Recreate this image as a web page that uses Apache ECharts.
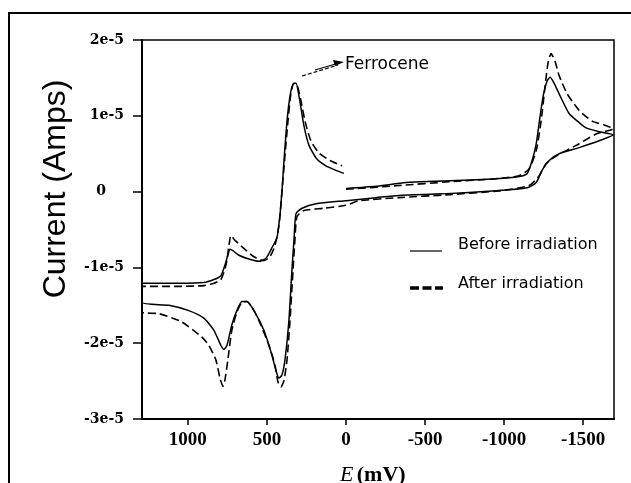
<!DOCTYPE html>
<html>
<head>
<meta charset="utf-8">
<script src="https://cdn.jsdelivr.net/npm/echarts@6/dist/echarts.min.js"></script>
<style>
html,body{margin:0;padding:0;background:#fff;}
#chart{width:631px;height:483px;}
</style>
</head>
<body>
<div id="chart"></div>
<script>
// Potentials (mV) and currents (units of 1e-5 A), in scan order
const beforeE = [0,-190,-380,-608,-949,-1095,-1146,-1177,-1203,-1228,-1247,-1272,-1291,-1316,-1348,-1411,-1475,-1519,-1601,-1690,
  -1601,-1475,-1348,-1285,-1240,-1203,-1146,-949,-608,-335,-190,0,190,278,316,329,342,361,386,405,424,443,468,519,582,627,658,690,722,753,772,791,835,899,994,1120,1290,
  1290,1057,899,835,791,766,747,734,715,677,614,551,506,468,437,418,405,392,373,354,335,316,297,266,234,184,127,63,13];
const beforeI = [0.04,0.07,0.12,0.14,0.17,0.20,0.24,0.41,0.63,1.0,1.26,1.46,1.51,1.43,1.29,1.03,0.91,0.84,0.79,0.75,
  0.67,0.58,0.50,0.41,0.28,0.12,0.05,0.01,-0.03,-0.05,-0.08,-0.12,-0.16,-0.22,-0.29,-0.64,-1.04,-1.70,-2.22,-2.42,-2.46,-2.36,-2.16,-1.83,-1.57,-1.45,-1.45,-1.57,-1.76,-2.03,-2.08,-2.03,-1.83,-1.67,-1.57,-1.50,-1.46,
  -1.21,-1.21,-1.20,-1.16,-1.11,-0.97,-0.84,-0.76,-0.78,-0.84,-0.89,-0.92,-0.88,-0.74,-0.61,-0.32,0.01,0.41,0.93,1.26,1.42,1.43,1.26,0.87,0.61,0.43,0.34,0.28,0.24];
const afterE = [0,-335,-652,-949,-1095,-1158,-1203,-1234,-1259,-1278,-1297,-1322,-1348,-1399,-1475,-1557,-1633,-1690,
  -1582,-1456,-1329,-1266,-1222,-1158,-968,-652,-335,-82,0,139,266,310,323,335,354,373,392,411,430,449,487,538,582,627,658,690,722,747,766,778,797,823,867,911,1038,1184,1290,
  1290,1057,899,835,791,759,740,728,703,646,582,519,481,449,424,405,386,367,348,329,310,285,259,222,171,101,25];
const afterI = [0.03,0.08,0.13,0.17,0.21,0.30,0.54,0.93,1.39,1.70,1.82,1.72,1.53,1.29,1.07,0.93,0.88,0.83,
  0.76,0.61,0.47,0.37,0.21,0.08,0.01,-0.04,-0.08,-0.12,-0.18,-0.22,-0.25,-0.33,-0.64,-1.04,-1.70,-2.22,-2.49,-2.58,-2.51,-2.29,-2.03,-1.76,-1.57,-1.45,-1.46,-1.59,-1.83,-2.22,-2.49,-2.57,-2.46,-2.22,-2.03,-1.92,-1.72,-1.61,-1.59,
  -1.25,-1.25,-1.24,-1.21,-1.16,-0.97,-0.71,-0.58,-0.64,-0.75,-0.86,-0.91,-0.86,-0.71,-0.45,-0.01,0.47,0.93,1.30,1.43,1.41,1.20,0.93,0.67,0.51,0.41,0.34];
const xTicks = [1000, 500, 0, -500, -1000, -1500];
const yTicks = [-3, -2, -1, 0, 1, 2];
const seriesNames = ['Before irradiation', 'After irradiation'];
const annotation = 'Ferrocene';

const zip = (a, b) => a.map((v, i) => [v, b[i]]);

const chart = echarts.init(document.getElementById('chart'), null, {renderer: 'canvas'});
const option = {
  backgroundColor: '#fff',
  animation: false,
  grid: {left: 142, top: 40, right: 17, bottom: 64, show: true, borderColor: '#000', borderWidth: 1.5, backgroundColor: 'transparent'},
  xAxis: {
    type: 'value', inverse: true, min: -1695, max: 1290,
    splitLine: {show: false},
    axisLine: {show: true, onZero: false, lineStyle: {color: '#000', width: 2}},
    axisTick: {show: true, inside: false, length: 6, customValues: xTicks, lineStyle: {color: '#000', width: 1.5}},
    axisLabel: {show: true, customValues: xTicks, margin: 12, color: '#000', fontFamily: 'Liberation Serif', fontWeight: 'bold', fontSize: 19,
      formatter: v => String(v)}
  },
  yAxis: {
    type: 'value', min: yTicks[0], max: yTicks[yTicks.length - 1], interval: 1,
    splitLine: {show: false},
    axisLine: {show: true, onZero: false, lineStyle: {color: '#000', width: 2}},
    axisTick: {show: true, inside: false, length: 9, lineStyle: {color: '#000', width: 1.5}},
    axisLabel: {
      show: true, margin: 18, color: '#000', fontFamily: 'DejaVu Serif', fontWeight: 'bold', fontSize: 14,
      formatter: v => v === 0 ? '{z|0}' : v + 'e-5',
      rich: {z: {padding: [0, 18, 0, 0], fontFamily: 'DejaVu Serif', fontWeight: 'bold', fontSize: 14, color: '#000'}}
    }
  },
  series: [
    {name: seriesNames[0], type: 'line', data: zip(beforeE, beforeI), showSymbol: false, smooth: 0.2,
     lineStyle: {color: '#000', width: 1.5, type: 'solid'}},
    {name: seriesNames[1], type: 'line', data: zip(afterE, afterI), showSymbol: false, smooth: 0.2,
     lineStyle: {color: '#000', width: 1.6, type: [8, 4]}}
  ],
  graphic: [
    {type: 'rect', silent: true, shape: {x: 9, y: 13, width: 800, height: 700}, style: {fill: null, stroke: '#000', lineWidth: 2}},
    {type: 'text', x: 56, y: 189, rotation: Math.PI / 2,
     style: {text: 'Current (Amps)', font: '32px "Liberation Sans", Arial, sans-serif', fill: '#000', textAlign: 'center', textVerticalAlign: 'middle'}},
    {type: 'text', x: 340, y: 475,
     style: {text: '{i|E} {b|(mV)}', rich: {i: {font: 'italic 22px "Liberation Serif", serif', fill: '#000'}, b: {font: 'bold 22px "Liberation Serif", serif', fill: '#000'}}, textAlign: 'left', textVerticalAlign: 'middle'}},
    // legend
    {type: 'line', shape: {x1: 410, y1: 251, x2: 442, y2: 251}, style: {stroke: '#000', lineWidth: 1.2}},
    {type: 'text', x: 458, y: 245, style: {text: seriesNames[0], font: '16px "DejaVu Sans", sans-serif', fill: '#000', textAlign: 'left', textVerticalAlign: 'middle'}},
    {type: 'line', shape: {x1: 410, y1: 288, x2: 443, y2: 288}, style: {stroke: '#000', lineWidth: 3.5, lineDash: [9, 3.5]}},
    {type: 'text', x: 458, y: 284, style: {text: seriesNames[1], font: '16px "DejaVu Sans", sans-serif', fill: '#000', textAlign: 'left', textVerticalAlign: 'middle'}},
    // ferrocene annotation
    {type: 'line', shape: {x1: 302, y1: 76, x2: 338, y2: 65}, style: {stroke: '#000', lineWidth: 1.2, lineDash: [4, 2]}},
    {type: 'line', shape: {x1: 315, y1: 70, x2: 339, y2: 63}, style: {stroke: '#000', lineWidth: 1.2}},
    {type: 'polygon', shape: {points: [[344, 62], [333, 60], [335, 66]]}, style: {fill: '#000'}},
    {type: 'text', x: 345, y: 65, style: {text: annotation, font: '17px "DejaVu Sans", sans-serif', fill: '#000', textAlign: 'left', textVerticalAlign: 'middle'}}
  ]
};
chart.setOption(option);
</script>
</body>
</html>
